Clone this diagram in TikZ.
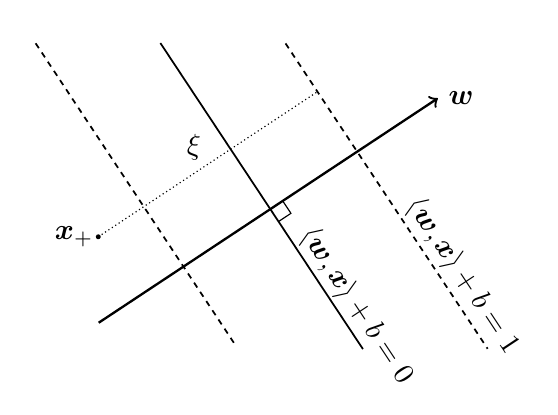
\documentclass[tikz,border=0pt]{standalone}
\usepackage{amsmath, amssymb}
\usepackage{tikz}
\newcommand{\vecw}{\ensuremath{\boldsymbol{w}}}
\newcommand{\vecx}{\ensuremath{\boldsymbol{x}}}

\begin{document}
\begin{tikzpicture}[margin/.style={semithick, dash pattern=on 2pt off 1.8pt}]
\useasboundingbox (0,0) rectangle (6.75,5.02);
\begin{scope}[shift={(3.27,2.49)}, rotate=33.5]
\draw[thick, ->] (-2.49,0) -- (2.43,0) node[right] {$\vecw$};
\draw[semithick] (0,2.41) -- (0,-2.03);
\node[rotate=-56.5] (plane0) at (0.22,-1.55) {$\langle \vecw, \vecx \rangle + b = 0$};
\draw[margin] (1.26,1.57) -- (1.26,-2.86);
\node[rotate=-56.5] (plane1) at (1.49,-1.96) {$\langle \vecw, \vecx \rangle + b = 1$};
\draw[margin] (-1.26,3.24) -- (-1.26,-1.16);
\draw (0.18,0) -- (0.18,-0.18) -- (0,-0.18);
\coordinate (xp) at (-1.92,0.87);
\coordinate (xq) at (1.26,0.87);
\fill (xp) circle (0.03) node[left, inner sep=1.5pt] {$\vecx_+$};
\draw[densely dotted] (xp) -- (xq);
\node (xi) at (-0.36,1.13) {$\xi$};
\end{scope}
\end{tikzpicture}
\end{document}
